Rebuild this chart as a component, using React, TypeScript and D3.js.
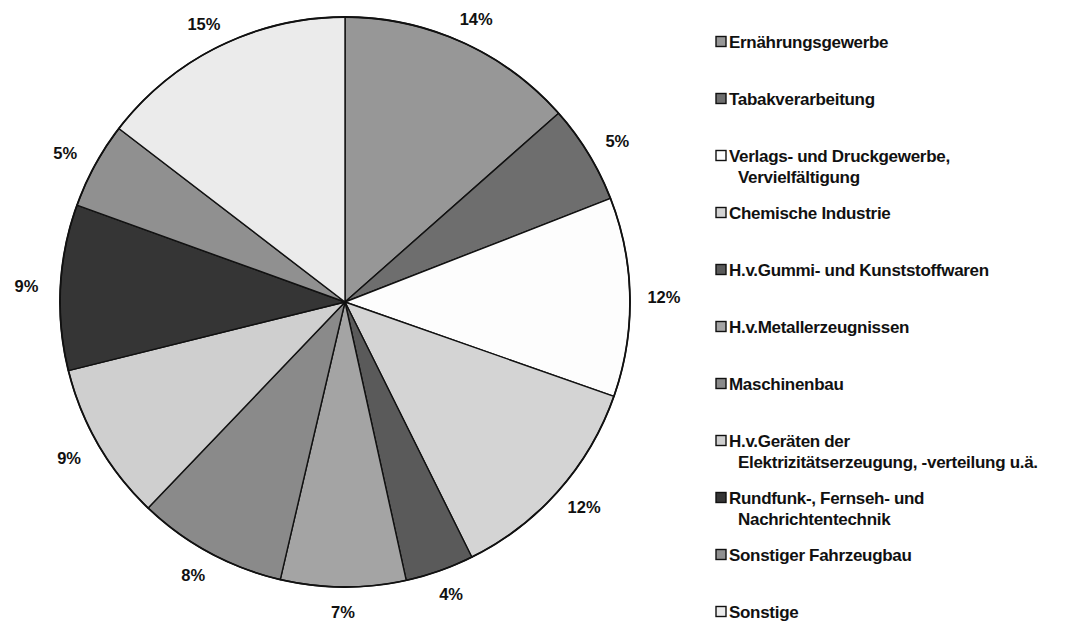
import React from 'react';
import * as d3 from 'd3';

// Branchen (legend order = slice order, clockwise from 12 o'clock)
const categories: string[] = [
  'Ernährungsgewerbe',
  'Tabakverarbeitung',
  'Verlags- und Druckgewerbe,\nVervielfältigung',
  'Chemische Industrie',
  'H.v.Gummi- und Kunststoffwaren',
  'H.v.Metallerzeugnissen',
  'Maschinenbau',
  'H.v.Geräten der\nElektrizitätserzeugung, -verteilung u.ä.',
  'Rundfunk-, Fernseh- und\nNachrichtentechnik',
  'Sonstiger Fahrzeugbau',
  'Sonstige',
];

// shares (in %)
const shares: number[] = [13.5, 5.6, 11.3, 12.3, 3.9, 7.1, 8.5, 9.0, 9.4, 4.9, 14.6];

// labels as printed on the chart
const shareLabels: string[] = ['14%', '5%', '12%', '12%', '4%', '7%', '8%', '9%', '9%', '5%', '15%'];

const greys: string[] = [
  '#979797', '#6e6e6e', '#fdfdfd', '#d4d4d4', '#5a5a5a', '#a4a4a4',
  '#8a8a8a', '#cfcfcf', '#353535', '#909090', '#ebebeb',
];

const W = 1079;
const H = 624;
const cx = 345;
const cy = 302;
const radius = 285;

const App: React.FC = () => {
  const pie = d3.pie<number>().sort(null).value((d) => d);
  const arcs = pie(shares);
  const arc = d3.arc<d3.PieArcDatum<number>>().innerRadius(0).outerRadius(radius);

  const color = d3.scaleOrdinal<string, string>().domain(categories).range(greys);
  const legendY = d3.scaleLinear().domain([0, categories.length - 1]).range([42, 612]);

  const font = '"Liberation Sans", Arial, sans-serif';
  const labelR = radius + 18;

  return (
    <svg
      width={W}
      height={H}
      style={{ position: 'absolute', left: 0, top: 0, background: '#fff' }}
    >
      <g transform={`translate(${cx},${cy})`}>
        {arcs.map((a, i) => (
          <path
            key={i}
            d={arc(a) || ''}
            fill={color(categories[i])}
            stroke="#111"
            strokeWidth={1.4}
            strokeLinejoin="round"
          />
        ))}
        <circle r={radius} fill="none" stroke="#111" strokeWidth={1.8} />
        {arcs.map((a, i) => {
          const mid = (a.startAngle + a.endAngle) / 2;
          const s = Math.sin(mid);
          const c = -Math.cos(mid);
          // push the label box out so its nearest edge sits at labelR
          const x = labelR * s + 16 * s;
          const y = labelR * c + 7 * c;
          return (
            <text
              key={'l' + i}
              x={x}
              y={y}
              textAnchor="middle"
              dominantBaseline="central"
              fontFamily={font}
              fontSize={16.5}
              fontWeight="bold"
              fill="#111"
            >
              {shareLabels[i]}
            </text>
          );
        })}
      </g>
      <g>
        {categories.map((c, i) => {
          const y = legendY(i);
          const lines = c.split('\n');
          return (
            <g key={'g' + i}>
              <rect
                x={716}
                y={y - 5.5}
                width={10}
                height={10}
                fill={color(c)}
                stroke="#111"
                strokeWidth={1.4}
              />
              <text
                x={729}
                y={y}
                fontFamily={font}
                fontSize={17}
                fontWeight="bold"
                letterSpacing={-0.3}
                fill="#111"
              >
                {lines.map((ln, j) => (
                  <tspan key={j} x={j === 0 ? 729 : 738} dy={j === 0 ? '0.35em' : 21}>
                    {ln}
                  </tspan>
                ))}
              </text>
            </g>
          );
        })}
      </g>
    </svg>
  );
};

export default App;
